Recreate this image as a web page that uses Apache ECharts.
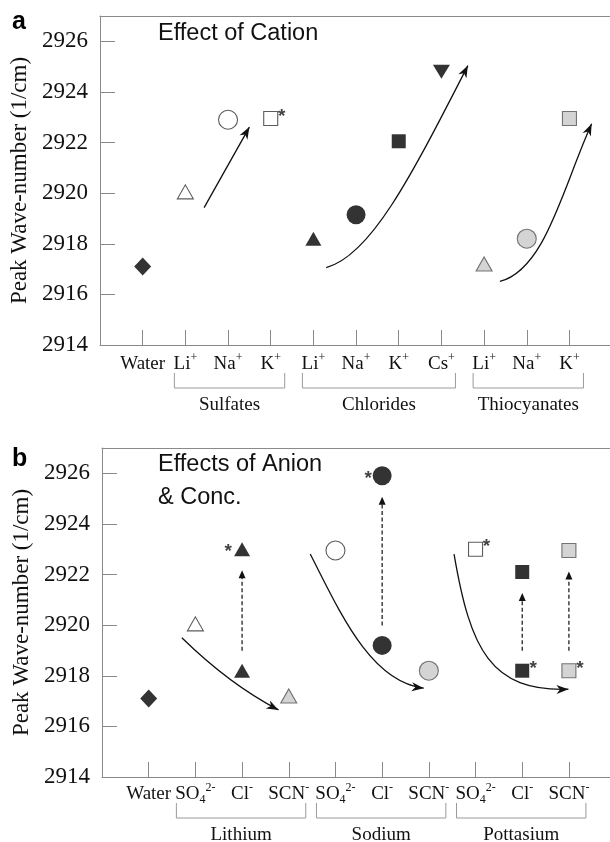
<!DOCTYPE html>
<html>
<head>
<meta charset="utf-8">
<script src="https://cdn.jsdelivr.net/npm/echarts@6/dist/echarts.min.js"></script>
<style>
  html, body { margin: 0; padding: 0; background: #fff; }
  #chart { width: 610px; height: 842px; }
</style>
</head>
<body>
<div id="chart"></div>
<script>
// ---------- Panel a: effect of cation ----------
const cationTicks = ['Water', 'Li^+', 'Na^+', 'K^+', 'Li^+', 'Na^+', 'K^+', 'Cs^+', 'Li^+', 'Na^+', 'K^+'];
const cationIon   = ['water', 'Li', 'Na', 'K', 'Li', 'Na', 'K', 'Cs', 'Li', 'Na', 'K'];
const cationSalt  = ['water', 'sulfate', 'sulfate', 'sulfate', 'chloride', 'chloride', 'chloride', 'chloride',
                     'thiocyanate', 'thiocyanate', 'thiocyanate'];
const cationPeak  = [2917.1, 2920.05, 2922.9, 2922.95, 2918.2, 2919.15, 2922.05, 2924.8, 2917.2, 2918.2, 2922.95];
const cationStar  = [false, false, false, true, false, false, false, false, false, false, false];
const cationGroups = [['Sulfates', 1, 3], ['Chlorides', 4, 7], ['Thiocyanates', 8, 10]];

// ---------- Panel b: effects of anion & concentration ----------
const anionTicks  = ['Water', 'SO_4^2-', 'Cl^-', 'SCN^-', 'SO_4^2-', 'Cl^-', 'SCN^-', 'SO_4^2-', 'Cl^-', 'SCN^-'];
const anionIon    = ['water', 'Li', 'Li', 'Li', 'Na', 'Na', 'Na', 'K', 'K', 'K'];
const anionSalt   = ['water', 'sulfate', 'chloride', 'thiocyanate', 'sulfate', 'chloride', 'thiocyanate',
                     'sulfate', 'chloride', 'thiocyanate'];
const anionPeak   = [2917.1, 2920.05, 2918.2, 2917.2, 2922.95, 2919.2, 2918.2, 2923.0, 2918.2, 2918.2];
const anionStar   = [false, false, false, false, false, false, false, true, true, true];
const concPeak    = [null, null, 2923.0, null, null, 2925.9, null, null, 2922.1, 2922.95];
const concStar    = [false, false, true, false, false, true, false, false, false, false];
const anionGroups = [['Lithium', 1, 3], ['Sodium', 4, 6], ['Pottasium', 7, 9]];

// y axis
const peakMin = 2914, peakMax = 2927;
const peakTicks = [2914, 2916, 2918, 2920, 2922, 2924, 2926];

// trend arrows, as [x, peak] control points (2 points = straight, 4 = cubic)
const trendA = [
  [[1.44, 2919.43], [2.50, 2922.61]],
  [[4.30, 2917.06], [5.33, 2917.52], [6.26, 2920.56], [7.62, 2925.04]],
  [[8.37, 2916.51], [9.43, 2916.98], [9.83, 2920.16], [10.52, 2922.74]]
];
const trendB = [
  [[0.71, 2919.50], [1.32, 2918.40], [2.07, 2917.33], [2.78, 2916.65]],
  [[3.46, 2922.81], [4.10, 2920.50], [4.75, 2917.76], [5.89, 2917.51]],
  [[6.54, 2922.81], [6.89, 2919.03], [7.32, 2917.37], [8.99, 2917.47]]
];

const SERIF = 'Liberation Serif';
const SANS = 'Liberation Sans';
const AXIS_GRAY = '#8a8a8a';
const INK = '#111';

const shapeOf = {
  water: { symbol: 'diamond', size: [17, 18], rotate: 0 },
  Li:    { symbol: 'triangle', size: [16, 14], rotate: 0 },
  Na:    { symbol: 'circle', size: 19, rotate: 0 },
  K:     { symbol: 'rect', size: 14, rotate: 0 },
  Cs:    { symbol: 'triangle', size: [17, 14], rotate: 180 }
};
const fillOf = {
  water:       { color: '#000', borderColor: '#000', borderWidth: 0 },
  sulfate:     { color: '#fff', borderColor: '#333', borderWidth: 1.1 },
  chloride:    { color: '#000', borderColor: '#000', borderWidth: 0 },
  thiocyanate: { color: '#c9c9c9', borderColor: '#555', borderWidth: 1.1 }
};

function tickMarkup(s) {
  const m = s.match(/^([^_^]+)(?:_(\w))?(?:\^(.+))?$/);
  let out = '{t|' + m[1] + '}';
  if (m[2]) out += '{sub|' + m[2] + '}';
  if (m[3]) out += '{sup|' + m[3] + '}';
  return out;
}

function pointItem(x, v, ion, salt, star, starLeft) {
  const sh = shapeOf[ion];
  return {
    value: [x, v],
    symbol: sh.symbol,
    symbolSize: sh.size,
    symbolRotate: sh.rotate,
    itemStyle: Object.assign({}, fillOf[salt]),
    label: star ? {
      show: true, formatter: '*', position: 'inside',
      offset: starLeft ? [-14, 3] : [11, -2],
      fontFamily: SANS, fontWeight: 'bold', fontSize: 19, color: INK
    } : { show: false }
  };
}

const itemsA = cationPeak.map((v, i) => pointItem(i, v, cationIon[i], cationSalt[i], cationStar[i], false));
const itemsB = anionPeak.map((v, i) => pointItem(i, v, anionIon[i], anionSalt[i], anionStar[i], false));
concPeak.forEach((v, i) => {
  if (v !== null) itemsB.push(pointItem(i, v, anionIon[i], anionSalt[i], concStar[i], anionIon[i] !== 'K'));
});

function arrowHead(tip, from, len, half, notch) {
  const dx = tip[0] - from[0], dy = tip[1] - from[1];
  const d = Math.hypot(dx, dy) || 1;
  const ux = dx / d, uy = dy / d, nx = -uy, ny = ux;
  const bx = tip[0] - ux * len, by = tip[1] - uy * len;
  return {
    type: 'polygon',
    shape: { points: [
      [tip[0], tip[1]],
      [bx + nx * half, by + ny * half],
      [tip[0] - ux * (len - notch), tip[1] - uy * (len - notch)],
      [bx - nx * half, by - ny * half]
    ] },
    style: { fill: INK, stroke: null }
  };
}

function trendSeries(idx, paths) {
  return {
    type: 'custom', xAxisIndex: idx, yAxisIndex: idx, clip: false, silent: true, z: 3,
    data: paths.map((p, i) => [i]),
    renderItem(params, api) {
      const pts = paths[params.dataIndex].map(p => api.coord(p));
      const children = [];
      let from;
      if (pts.length === 2) {
        children.push({ type: 'line',
          shape: { x1: pts[0][0], y1: pts[0][1], x2: pts[1][0], y2: pts[1][1] },
          style: { stroke: INK, lineWidth: 1.3 } });
        from = pts[0];
      } else {
        children.push({ type: 'bezierCurve',
          shape: { x1: pts[0][0], y1: pts[0][1], cpx1: pts[1][0], cpy1: pts[1][1],
                   cpx2: pts[2][0], cpy2: pts[2][1], x2: pts[3][0], y2: pts[3][1] },
          style: { stroke: INK, lineWidth: 1.3, fill: null } });
        from = pts[2];
      }
      children.push(arrowHead(pts[pts.length - 1], from, 12, 4.5, 3.5));
      return { type: 'group', children };
    }
  };
}

// dashed arrows from one concentration to the other
const concArrows = [];
concPeak.forEach((v, i) => { if (v !== null) concArrows.push([i, anionPeak[i], v]); });

const concSeries = {
  type: 'custom', xAxisIndex: 1, yAxisIndex: 1, clip: false, silent: true, z: 3,
  data: concArrows,
  renderItem(params, api) {
    const a = api.coord([api.value(0), api.value(1)]);
    const b = api.coord([api.value(0), api.value(2)]);
    const dir = b[1] < a[1] ? -1 : 1;
    const y0 = a[1] + dir * 20, y1 = b[1] - dir * 21;
    const x = a[0];
    const headLen = 8;
    return { type: 'group', children: [
      { type: 'line', shape: { x1: x, y1: y0, x2: x, y2: y1 - dir * headLen * 0.6 },
        style: { stroke: INK, lineWidth: 1.2, lineDash: [4, 2.5] } },
      { type: 'polygon', shape: { points: [[x, y1], [x - 3.5, y1 - dir * headLen], [x + 3.5, y1 - dir * headLen]] },
        style: { fill: INK } }
    ] };
  }
};

function bracketSeries(idx, groups, padL, padR, top, bottom, labelDy) {
  return {
    type: 'custom', xAxisIndex: idx, yAxisIndex: idx, clip: false, silent: true,
    data: groups.map(g => [g[1], g[2]]),
    renderItem(params, api) {
      const g = groups[params.dataIndex];
      const pl = api.coord([g[1], peakMin]);
      const pr = api.coord([g[2], peakMin]);
      const xl = pl[0] + padL, xr = pr[0] + padR, base = pl[1];
      const stroke = { stroke: '#9a9a9a', lineWidth: 1, fill: null };
      return { type: 'group', children: [
        { type: 'polyline', shape: { points: [[xl, base + top], [xl, base + bottom], [xr, base + bottom], [xr, base + top]] },
          style: stroke },
        { type: 'text', x: (xl + xr) / 2, y: base + labelDy,
          style: { text: g[0], fontFamily: SERIF, fontSize: 19, fill: INK, align: 'center', verticalAlign: 'middle' } }
      ] };
    }
  };
}

// bottom category axis; the plot runs on past the right edge of the page
function xAxisFor(idx, ticks, maxX, margin) {
  const idxs = ticks.map((t, i) => i);
  return {
    gridIndex: idx, type: 'value', min: -1, max: maxX, position: 'bottom',
    axisLine: { show: true, onZero: false, lineStyle: { color: AXIS_GRAY, width: 1 } },
    axisTick: { show: true, inside: true, length: 15, customValues: idxs, lineStyle: { color: AXIS_GRAY, width: 1 } },
    splitLine: { show: false },
    axisLabel: {
      customValues: idxs, margin: margin,
      formatter: v => (ticks[v] !== undefined ? tickMarkup(ticks[v]) : ''),
      rich: {
        t:   { fontFamily: SERIF, fontSize: 19, color: INK, lineHeight: 24, verticalAlign: 'middle' },
        sup: { fontFamily: SERIF, fontSize: 12, color: INK, lineHeight: 12, verticalAlign: 'top' },
        sub: { fontFamily: SERIF, fontSize: 12, color: INK, lineHeight: 12, verticalAlign: 'bottom' }
      }
    }
  };
}

// frame line along the top of a panel
function topAxisFor(idx, maxX) {
  return {
    gridIndex: idx, type: 'value', min: -1, max: maxX, position: 'top',
    axisLine: { show: true, onZero: false, lineStyle: { color: AXIS_GRAY, width: 1 } },
    axisTick: { show: false }, axisLabel: { show: false }, splitLine: { show: false }
  };
}

function yAxisFor(idx) {
  return {
    gridIndex: idx, type: 'value', min: peakMin, max: peakMax, position: 'left',
    name: 'Peak Wave-number (1/cm)', nameLocation: 'middle', nameGap: 55,
    nameTextStyle: { fontFamily: SERIF, fontSize: 23, color: INK },
    axisLine: { show: true, onZero: false, lineStyle: { color: AXIS_GRAY, width: 1 } },
    axisTick: { show: true, inside: true, length: 15, customValues: peakTicks, lineStyle: { color: AXIS_GRAY, width: 1 } },
    splitLine: { show: false },
    axisLabel: { customValues: peakTicks, margin: 12, fontFamily: SERIF, fontSize: 23, color: INK,
                 formatter: v => String(v) }
  };
}

const chart = echarts.init(document.getElementById('chart'), null, { renderer: 'canvas' });
chart.setOption({
  animation: false,
  backgroundColor: '#fff',
  grid: [
    { left: 100, top: 16, right: 0, height: 329, show: false },
    { left: 102, top: 448, right: 0, height: 329, show: false }
  ],
  xAxis: [xAxisFor(0, cationTicks, 10.95, 7), xAxisFor(1, anionTicks, 9.88, 5),
          topAxisFor(0, 10.95), topAxisFor(1, 9.88)],
  yAxis: [yAxisFor(0), yAxisFor(1)],
  graphic: [
    { type: 'text', x: 12, y: 22, style: { text: 'a', fontFamily: SANS, fontWeight: 'bold', fontSize: 25, fill: '#000', verticalAlign: 'middle' } },
    { type: 'text', x: 158, y: 34, style: { text: 'Effect of Cation', fontFamily: SANS, fontSize: 23.5, fill: INK, verticalAlign: 'middle' } },
    { type: 'text', x: 12, y: 459, style: { text: 'b', fontFamily: SANS, fontWeight: 'bold', fontSize: 25, fill: '#000', verticalAlign: 'middle' } },
    { type: 'text', x: 158, y: 464.5, style: { text: 'Effects of Anion', fontFamily: SANS, fontSize: 23.5, fill: INK, verticalAlign: 'middle' } },
    { type: 'text', x: 158, y: 497.8, style: { text: '& Conc.', fontFamily: SANS, fontSize: 23.5, fill: INK, verticalAlign: 'middle' } }
  ],
  series: [
    trendSeries(0, trendA),
    { type: 'scatter', xAxisIndex: 0, yAxisIndex: 0, silent: true, z: 5, data: itemsA },
    bracketSeries(0, cationGroups, -11, 14, 28, 43, 60),
    trendSeries(1, trendB),
    concSeries,
    { type: 'scatter', xAxisIndex: 1, yAxisIndex: 1, silent: true, z: 5, data: itemsB },
    bracketSeries(1, anionGroups, -19, 17, 26, 41, 58)
  ]
});
</script>
</body>
</html>
